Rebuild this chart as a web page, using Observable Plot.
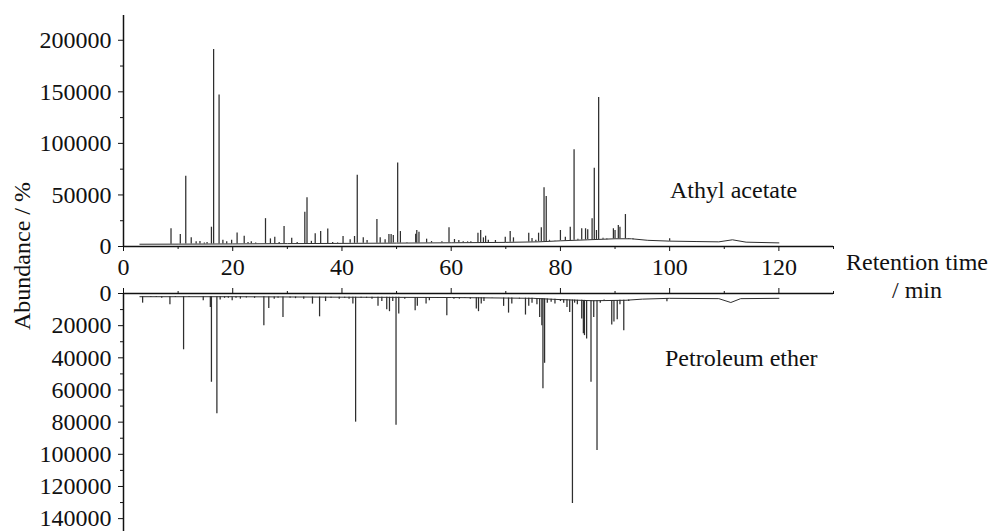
<!DOCTYPE html>
<html><head><meta charset="utf-8">
<script src="https://cdn.jsdelivr.net/npm/d3@7"></script>
<script src="https://cdn.jsdelivr.net/npm/@observablehq/plot@0.6"></script>
<style>
body{margin:0;background:#fff;}
#wrap{position:relative;width:992px;height:531px;overflow:hidden;font-family:"Liberation Serif","Times New Roman",serif;}
#wrap svg{position:absolute;left:0;background:transparent;}
</style></head><body><div id="wrap"></div>
<script>
// Tick values
const xTicks = [0, 20, 40, 60, 80, 100, 120];
const xMinor = [10, 30, 50, 70, 90, 110, 130];
const upperTicks = [0, 50000, 100000, 150000, 200000];
const upperMinor = [25000, 75000, 125000, 175000];
const lowerTicks = [0, 20000, 40000, 60000, 80000, 100000, 120000, 140000];
const lowerMinor = [10000, 30000, 50000, 70000, 90000, 110000, 130000];

// Ethyl acetate extract (upper): baseline and peaks (retention time, abundance)
const eaBaseTime = [3, 10, 20, 30, 40, 50, 60, 70, 76, 80, 85, 90, 93, 96, 100, 105, 109, 111.5, 114, 120];
const eaBaseValue = [2200, 2300, 2500, 2800, 3000, 3300, 3600, 4000, 4500, 5500, 6500, 7500, 7500, 6000, 5200, 4800, 4500, 6500, 4200, 3500];
const eaPeakTime = [8.7, 10.4, 11.4, 12.4, 13.3, 14.0, 14.8, 15.3, 16.1, 16.5, 17.5, 18.2, 18.9, 19.8, 20.8, 22.1, 22.8, 23.4, 24.2, 26.0, 26.9, 27.7, 28.5, 29.4, 30.8, 31.8, 33.2, 33.6, 34.4, 35.1, 36.1, 37.4, 38.3, 39.2, 40.2, 41.5, 42.3, 42.8, 43.9, 44.6, 46.4, 47.0, 47.9, 48.6, 49.0, 49.4, 50.2, 50.7, 51.9, 53.5, 53.7, 54.1, 55.5, 56.4, 58.3, 59.6, 60.6, 61.4, 62.2, 63.0, 63.6, 64.9, 65.4, 65.9, 66.3, 66.8, 68.1, 69.9, 70.8, 71.4, 74.2, 74.8, 75.5, 76.0, 76.5, 77.0, 77.4, 78.0, 79.0, 80.0, 80.9, 81.8, 82.5, 83.2, 83.9, 84.6, 85.0, 85.8, 86.2, 86.6, 87.0, 87.8, 88.5, 89.7, 90.0, 90.6, 90.9, 91.9, 92.5, 93.3, 100.0];
const eaPeakValue = [17200, 11600, 68200, 8500, 4500, 4800, 3500, 4000, 18700, 191000, 147000, 6000, 4500, 6000, 13000, 10000, 4000, 4500, 3500, 27000, 7400, 9000, 4000, 19400, 8100, 4000, 33300, 47300, 5000, 12300, 14600, 17000, 4000, 3500, 9700, 6500, 9700, 69000, 8400, 5800, 26200, 8400, 6500, 11600, 11600, 10700, 80900, 14500, 4000, 12000, 15500, 13900, 7100, 4800, 4500, 18100, 6800, 5800, 4500, 4500, 4500, 12900, 15500, 8400, 10000, 6000, 5800, 9000, 14500, 8400, 12900, 7700, 6000, 12900, 18100, 57000, 48500, 6000, 5000, 15500, 9000, 18700, 93900, 7000, 17200, 17200, 16200, 26900, 76000, 15500, 144400, 8000, 6500, 17200, 15500, 20400, 18700, 31000, 7000, 6500, 7400];

// Petroleum ether extract (lower)
const peBaseTime = [3, 20, 40, 60, 75, 80, 86, 92, 95, 100, 109, 111.2, 113, 120];
const peBaseValue = [2000, 2000, 2300, 2500, 3000, 3800, 4500, 4200, 3500, 3000, 3200, 5600, 3200, 3000];
const pePeakTime = [3.5, 5.0, 6.0, 7.0, 8.5, 9.5, 11.0, 12.0, 14.6, 15.9, 16.1, 17.1, 17.7, 18.5, 19.2, 19.9, 20.6, 21.4, 22.5, 24.0, 25.7, 26.6, 27.6, 28.3, 29.2, 30.5, 31.5, 33.0, 34.6, 35.9, 37.0, 38.0, 39.5, 40.5, 41.3, 42.0, 42.5, 43.5, 44.5, 45.5, 46.6, 47.3, 48.2, 48.7, 49.3, 49.9, 50.4, 51.5, 53.4, 53.8, 55.4, 56.0, 57.5, 59.2, 60.5, 61.5, 62.5, 63.5, 64.6, 65.0, 65.5, 66.0, 67.5, 69.6, 70.5, 71.1, 72.5, 73.6, 74.2, 74.8, 75.7, 76.2, 76.6, 76.8, 77.1, 77.6, 78.3, 79.0, 80.0, 80.6, 81.2, 81.7, 82.2, 82.6, 83.1, 83.9, 84.2, 84.4, 84.8, 85.6, 86.1, 86.7, 87.3, 88.0, 88.6, 89.4, 89.8, 90.4, 90.9, 91.6, 92.5, 99.5];
const pePeakValue = [6000, 2500, 2500, 3000, 7000, 2500, 35000, 2500, 4500, 8700, 55200, 74800, 4000, 3000, 3000, 4500, 3000, 3500, 2800, 3000, 20000, 9300, 3500, 3000, 14900, 3000, 3200, 3500, 6600, 14500, 5000, 3000, 3500, 3000, 3500, 6600, 80000, 3000, 3000, 3500, 8000, 5000, 10100, 11300, 5000, 82000, 12800, 3500, 10700, 8000, 6600, 4500, 3000, 13800, 3500, 3500, 3000, 3500, 9700, 11300, 6600, 5000, 3000, 8000, 12200, 6600, 3500, 13400, 8000, 6000, 7000, 14900, 20000, 59300, 43400, 6000, 5500, 6500, 5000, 6000, 8700, 11800, 130600, 6000, 7000, 15900, 25000, 26200, 28300, 55200, 15000, 97600, 6000, 4000, 4500, 19600, 17800, 16300, 7000, 23200, 5000, 5100];

function build(baseT, baseV, peakT, peakV) {
  const base = baseT.map((t, i) => ({t, v: baseV[i]}));
  const baseAt = d3.scaleLinear().domain(baseT).range(baseV).clamp(true);
  const peaks = peakT.map((t, i) => ({t, b: baseAt(t), h: peakV[i]}));
  return {base, peaks};
}
const ea = build(eaBaseTime, eaBaseValue, eaPeakTime, eaPeakValue);
const pe = build(peBaseTime, peBaseValue, pePeakTime, pePeakValue);

const FONT = '"Liberation Serif","Times New Roman",serif';
const INK = "#111";
const TRACE = "#2e2e2e";
const style = {fontFamily: FONT, fontSize: "24px", color: INK, background: "transparent", overflow: "visible"};

const upper = Plot.plot({
  width: 992, height: 280,
  marginLeft: 123, marginRight: 159, marginTop: 15, marginBottom: 34,
  style,
  x: {domain: [0, 130]},
  y: {domain: [0, 224000]},
  marks: [
    Plot.line(ea.base, {x: "t", y: "v", stroke: TRACE, strokeWidth: 1}),
    Plot.ruleX(ea.peaks, {x: "t", y1: "b", y2: "h", stroke: TRACE, strokeWidth: 1.25}),
    Plot.ruleY([0], {stroke: INK, strokeWidth: 1.5}),
    Plot.ruleX([0], {stroke: INK, strokeWidth: 1.5}),
    Plot.axisX({ticks: xTicks, tickSize: 5, tickPadding: 6, tickFormat: d => String(d), label: null, stroke: INK}),
    Plot.axisX({ticks: xMinor, tickSize: 3, fill: "none", label: null, stroke: INK}),
    Plot.axisY({ticks: upperTicks, tickSize: 5, tickPadding: 7, tickFormat: d => String(d), label: null, stroke: INK}),
    Plot.axisY({ticks: upperMinor, tickSize: 3, fill: "none", label: null, stroke: INK})
  ]
});
upper.style.top = "0px";

const lower = Plot.plot({
  width: 992, height: 251,
  marginLeft: 123, marginRight: 159, marginTop: 13, marginBottom: 0,
  style,
  x: {domain: [0, 130]},
  y: {domain: [0, 148000], reverse: true},
  marks: [
    Plot.line(pe.base, {x: "t", y: "v", stroke: TRACE, strokeWidth: 1}),
    Plot.ruleX(pe.peaks, {x: "t", y1: "b", y2: "h", stroke: TRACE, strokeWidth: 1.25}),
    Plot.ruleY([0], {stroke: INK, strokeWidth: 1.5}),
    Plot.ruleX([0], {stroke: INK, strokeWidth: 1.5}),
    Plot.axisX({anchor: "top", ticks: xTicks, tickSize: 6, fill: "none", label: null, stroke: INK}),
    Plot.axisX({anchor: "top", ticks: xMinor, tickSize: 3, fill: "none", label: null, stroke: INK}),
    Plot.axisY({ticks: lowerTicks, tickSize: 5, tickPadding: 7, tickFormat: d => String(d), label: null, stroke: INK}),
    Plot.axisY({ticks: lowerMinor, tickSize: 3, fill: "none", label: null, stroke: INK})
  ]
});
lower.style.top = "280px";

const wrap = document.getElementById("wrap");
wrap.appendChild(upper);
wrap.appendChild(lower);

// Text labels overlay
const labels = [
  {text: "Retention time", x: 917, y: 270, anchor: "middle", rot: 0},
  {text: "/ min", x: 917, y: 298, anchor: "middle", rot: 0},
  {text: "Athyl acetate", x: 670, y: 198, anchor: "start", rot: 0},
  {text: "Petroleum ether", x: 665, y: 366, anchor: "start", rot: 0},
  {text: "Abundance / %", x: 30, y: 256, anchor: "middle", rot: -90}
];
const ov = d3.create("svg").attr("width", 992).attr("height", 531)
  .style("top", "0px").style("pointer-events", "none");
ov.selectAll("text").data(labels).join("text")
  .attr("transform", d => `translate(${d.x},${d.y}) rotate(${d.rot})`)
  .attr("text-anchor", d => d.anchor)
  .attr("font-family", FONT).attr("font-size", 24).attr("fill", INK)
  .text(d => d.text);
wrap.appendChild(ov.node());
</script></body></html>
